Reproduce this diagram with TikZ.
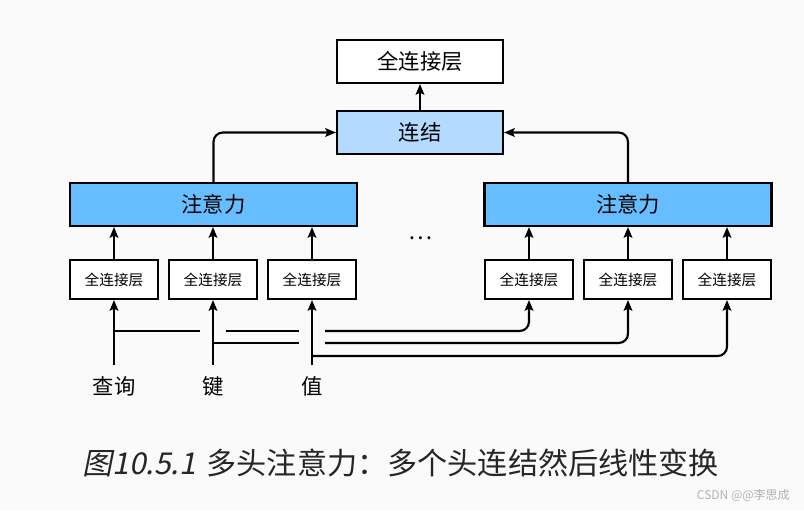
\documentclass[tikz,border=0pt]{standalone}
\usepackage{fontspec}
\setmainfont{Noto Sans CJK SC}
\newfontfamily\cjkit[FakeSlant=0.2]{Noto Sans CJK SC}
\usetikzlibrary{arrows.meta,calc}
\definecolor{bgc}{RGB}{250,250,250}
\definecolor{attc}{RGB}{102,189,255}
\definecolor{catc}{RGB}{180,218,255}
\tikzset{
  box/.style={draw=black,line width=1.6pt,inner sep=0pt,font=\fontsize{16}{18}\selectfont},
  bigbox/.style={box,minimum width=124.5pt,minimum height=32.25pt},
  attbox/.style={box,fill=attc,minimum width=215.25pt,minimum height=32.25pt},
  fcbox/.style={box,fill=white,minimum width=66pt,minimum height=29.25pt,font=\fontsize{11}{13}\selectfont},
  link/.style={line width=1.6pt},
  arr/.style={link,-{Stealth[length=8pt,width=6.5pt,inset=1.5pt]}},
  lbl/.style={inner sep=0pt,font=\fontsize{16}{18}\selectfont}
}
\begin{document}
\begin{tikzpicture}[x=0.75pt,y=-0.75pt]
\fill[bgc] (0,0) rectangle (804,511);
\useasboundingbox (0,0) rectangle (804,511);
% top
\node[bigbox,fill=white] (fc) at (420,61.5) {全连接层};
\node[bigbox,fill=catc] (cat) at (420,132.5) {连结};
\node[attbox] (la) at (213.5,204.5) {注意力};
\node[attbox] (ra) at (628,204.5) {注意力};
\node[fcbox] (l1) at (114,279.5) {全连接层};
\node[fcbox] (l2) at (213,279.5) {全连接层};
\node[fcbox] (l3) at (312,279.5) {全连接层};
\node[fcbox] (r1) at (529,279.5) {全连接层};
\node[fcbox] (r2) at (628,279.5) {全连接层};
\node[fcbox] (r3) at (727,279.5) {全连接层};
\node[inner sep=0pt,font=\fontsize{17}{19}\selectfont] (dots) at (420,238) {\ldots};
% inputs
\node[lbl] (q) at (114,386) {查询};
\node[lbl] (k) at (213,386) {键};
\node[lbl] (v) at (312,386) {值};
\coordinate (q0) at (114,365);
\coordinate (k0) at (213,365);
\coordinate (v0) at (312,365);
% arrows upward
\draw[arr] (cat.north) -- (fc.south);
\draw[arr,rounded corners=7] (la.north) |- (cat.west);
\draw[arr,rounded corners=7] (ra.north) |- (cat.east);
\foreach \b in {l1,l2,l3}{\draw[arr] (\b.north) -- (\b.north |- la.south);}
\foreach \b in {r1,r2,r3}{\draw[arr] (\b.north) -- (\b.north |- ra.south);}
\draw[arr] (q0) -- (l1.south);
\draw[arr] (k0) -- (l2.south);
\draw[arr] (v0) -- (l3.south);
% horizontal feeds
\coordinate (h1) at (114,331);
\coordinate (h2) at (213,343);
\coordinate (h3) at (312,356);
\draw[link] (h1) -- ($(k0|-h1)+(-13,0)$);
\draw[link] ($(k0|-h1)+(13,0)$) -- ($(v0|-h1)+(-13,0)$);
\draw[arr,rounded corners=7] ($(v0|-h1)+(13,0)$) -| (r1.south);
\draw[link] (h2) -- ($(v0|-h2)+(-13,0)$);
\draw[arr,rounded corners=7] ($(v0|-h2)+(13,0)$) -| (r2.south);
\draw[arr,rounded corners=7] (h3) -| (r3.south);
% caption
\node[anchor=west,inner sep=0pt,font=\fontsize{22.6}{26}\selectfont,text=black!85] (cap) at (82,463) {{\cjkit 图10.5.1}\hspace{8pt}多头注意力：多个头连结然后线性变换};
\node[anchor=east,inner sep=0pt,font=\fontsize{9}{11}\selectfont,text=black!30] (wm) at (790,495) {CSDN @@李思成};
\end{tikzpicture}
\end{document}
